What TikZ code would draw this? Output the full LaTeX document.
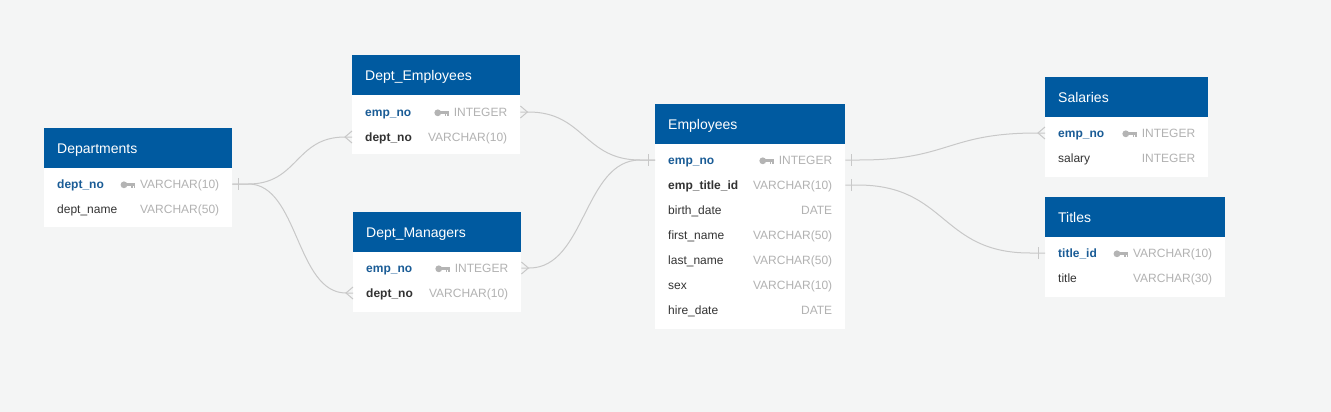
\documentclass[tikz,border=0pt]{standalone}
\usepackage{fontspec}
\setmainfont{Liberation Sans}
\definecolor{bgc}{RGB}{244,245,245}
\definecolor{hdrblue}{RGB}{0,90,160}
\definecolor{pkblue}{RGB}{26,92,150}
\definecolor{darktxt}{RGB}{51,51,51}
\definecolor{typegray}{RGB}{178,178,178}
\definecolor{keygray}{RGB}{180,180,180}
\definecolor{linegray}{RGB}{200,200,200}
\tikzset{
  hdr/.style={anchor=north west, fill=hdrblue, text=white, minimum height=40pt,
    inner xsep=13pt, inner ysep=0pt, align=left, text height=10pt, text depth=0pt,
    font=\fontsize{14}{16}\selectfont},
  bodybox/.style={anchor=north west, fill=white, inner sep=0pt},
  fname/.style={anchor=west, minimum height=25pt, inner xsep=13pt, inner ysep=0pt,
    align=left, text height=9.4pt, text depth=0pt, text=darktxt,
    font=\fontsize{12}{14}\selectfont},
  pk/.style={text=pkblue, font=\fontsize{12}{14}\selectfont\bfseries},
  fk/.style={text=darktxt, font=\fontsize{12}{14}\selectfont\bfseries},
  ftype/.style={anchor=east, inner sep=0pt, text height=9.4pt, text depth=0pt,
    text=typegray, font=\fontsize{12}{14}\selectfont},
  conn/.style={draw=linegray, line width=1pt},
  keyicon/.pic={
    \fill[keygray] (-11.4,0.8) circle (3.4);
    \fill[keygray] (-9,-0.6) rectangle (0,2.0);
    \fill[keygray] (-4.6,2.0) rectangle (-2.8,3.8);
    \fill[keygray] (-1.8,2.0) rectangle (0,3.8);
  },
  crowW/.pic={\draw[conn] (0,-6) -- (-7,0) -- (0,6);},
  crowE/.pic={\draw[conn] (0,-6) -- (7,0) -- (0,6);},
  barW/.pic={\draw[conn] (-7,-6) -- (-7,6);},
  barE/.pic={\draw[conn] (6,-6) -- (6,6);},
}
\begin{document}
\begin{tikzpicture}[x=1pt,y=-1pt]
\fill[bgc] (0,0) rectangle (1331,412);
\useasboundingbox (0,0) rectangle (1331,412);

% ---------------- Departments
\node[bodybox, minimum width=188pt, minimum height=59pt] (dep-b) at (44,168) {};
\node[hdr, text width=162pt] (dep-h) at (44,128) {Departments};
\node[fname, pk, text width=162pt] (dep-r1) at (44,184) {dept\_no};
\node[ftype] (dep-t1) at ([xshift=-13pt]dep-r1.east) {VARCHAR(10)};
\pic at ([xshift=-4.5pt]dep-t1.west) {keyicon};
\node[fname, text width=162pt] (dep-r2) at (44,209) {dept\_name};
\node[ftype] (dep-t2) at ([xshift=-13pt]dep-r2.east) {VARCHAR(50)};

% ---------------- Dept_Employees
\node[bodybox, minimum width=168pt, minimum height=59pt] (de-b) at (352,95) {};
\node[hdr, text width=142pt] (de-h) at (352,55) {Dept\_Employees};
\node[fname, pk, text width=142pt] (de-r1) at (352,112) {emp\_no};
\node[ftype] (de-t1) at ([xshift=-13pt]de-r1.east) {INTEGER};
\pic at ([xshift=-4.5pt]de-t1.west) {keyicon};
\node[fname, fk, text width=142pt] (de-r2) at (352,137) {dept\_no};
\node[ftype] (de-t2) at ([xshift=-13pt]de-r2.east) {VARCHAR(10)};

% ---------------- Dept_Managers
\node[bodybox, minimum width=168pt, minimum height=60pt] (dm-b) at (353,252) {};
\node[hdr, text width=142pt] (dm-h) at (353,212) {Dept\_Managers};
\node[fname, pk, text width=142pt] (dm-r1) at (353,268) {emp\_no};
\node[ftype] (dm-t1) at ([xshift=-13pt]dm-r1.east) {INTEGER};
\pic at ([xshift=-4.5pt]dm-t1.west) {keyicon};
\node[fname, fk, text width=142pt] (dm-r2) at (353,293) {dept\_no};
\node[ftype] (dm-t2) at ([xshift=-13pt]dm-r2.east) {VARCHAR(10)};

% ---------------- Employees
\node[bodybox, minimum width=190pt, minimum height=185pt] (emp-b) at (655,144) {};
\node[hdr, text width=164pt] (emp-h) at (655,104) {Employees};
\node[fname, pk, text width=164pt] (emp-r1) at (655,160) {emp\_no};
\node[ftype] (emp-t1) at ([xshift=-13pt]emp-r1.east) {INTEGER};
\pic at ([xshift=-4.5pt]emp-t1.west) {keyicon};
\node[fname, fk, text width=164pt] (emp-r2) at (655,185) {emp\_title\_id};
\node[ftype] (emp-t2) at ([xshift=-13pt]emp-r2.east) {VARCHAR(10)};
\node[fname, text width=164pt] (emp-r3) at (655,210) {birth\_date};
\node[ftype] (emp-t3) at ([xshift=-13pt]emp-r3.east) {DATE};
\node[fname, text width=164pt] (emp-r4) at (655,235) {first\_name};
\node[ftype] (emp-t4) at ([xshift=-13pt]emp-r4.east) {VARCHAR(50)};
\node[fname, text width=164pt] (emp-r5) at (655,260) {last\_name};
\node[ftype] (emp-t5) at ([xshift=-13pt]emp-r5.east) {VARCHAR(50)};
\node[fname, text width=164pt] (emp-r6) at (655,285) {sex};
\node[ftype] (emp-t6) at ([xshift=-13pt]emp-r6.east) {VARCHAR(10)};
\node[fname, text width=164pt] (emp-r7) at (655,310) {hire\_date};
\node[ftype] (emp-t7) at ([xshift=-13pt]emp-r7.east) {DATE};

% ---------------- Salaries
\node[bodybox, minimum width=163pt, minimum height=60pt] (sal-b) at (1045,117) {};
\node[hdr, text width=137pt] (sal-h) at (1045,77) {Salaries};
\node[fname, pk, text width=137pt] (sal-r1) at (1045,133) {emp\_no};
\node[ftype] (sal-t1) at ([xshift=-13pt]sal-r1.east) {INTEGER};
\pic at ([xshift=-4.5pt]sal-t1.west) {keyicon};
\node[fname, text width=137pt] (sal-r2) at (1045,158) {salary};
\node[ftype] (sal-t2) at ([xshift=-13pt]sal-r2.east) {INTEGER};

% ---------------- Titles
\node[bodybox, minimum width=180pt, minimum height=60pt] (tit-b) at (1045,237) {};
\node[hdr, text width=154pt] (tit-h) at (1045,197) {Titles};
\node[fname, pk, text width=154pt] (tit-r1) at (1045,253) {title\_id};
\node[ftype] (tit-t1) at ([xshift=-13pt]tit-r1.east) {VARCHAR(10)};
\pic at ([xshift=-4.5pt]tit-t1.west) {keyicon};
\node[fname, text width=154pt] (tit-r2) at (1045,278) {title};
\node[ftype] (tit-t2) at ([xshift=-13pt]tit-r2.east) {VARCHAR(30)};

% ---------------- Connectors
\draw[conn] (dep-r1.east) -- ++(16,0) .. controls +(50,0) and +(-50,0) .. ([xshift=-7pt]de-r2.west) -- (de-r2.west);
\draw[conn] (dep-r1.east) -- ++(16,0) .. controls +(50,0) and +(-50,0) .. ([xshift=-7pt]dm-r2.west) -- (dm-r2.west);
\pic at (dep-r1.east) {barE};
\pic at (de-r2.west) {crowW};
\pic at (dm-r2.west) {crowW};

\draw[conn] (de-r1.east) -- ++(8,0) .. controls +(56,0) and +(-56,0) .. ([xshift=-15pt]emp-r1.west) -- (emp-r1.west);
\draw[conn] (dm-r1.east) -- ++(8,0) .. controls +(56,0) and +(-56,0) .. ([xshift=-15pt]emp-r1.west) -- (emp-r1.west);
\pic at (de-r1.east) {crowE};
\pic at (dm-r1.east) {crowE};
\pic at (emp-r1.west) {barW};

\draw[conn] (emp-r1.east) -- ++(14,0) .. controls +(90,0) and +(-90,0) .. ([xshift=-8pt]sal-r1.west) -- (sal-r1.west);
\pic at (emp-r1.east) {barE};
\pic at (sal-r1.west) {crowW};

\draw[conn] (emp-r2.east) -- ++(12,0) .. controls +(90,0) and +(-90,0) .. ([xshift=-15pt]tit-r1.west) -- (tit-r1.west);
\pic at (emp-r2.east) {barE};
\pic at (tit-r1.west) {barW};
\end{tikzpicture}
\end{document}
